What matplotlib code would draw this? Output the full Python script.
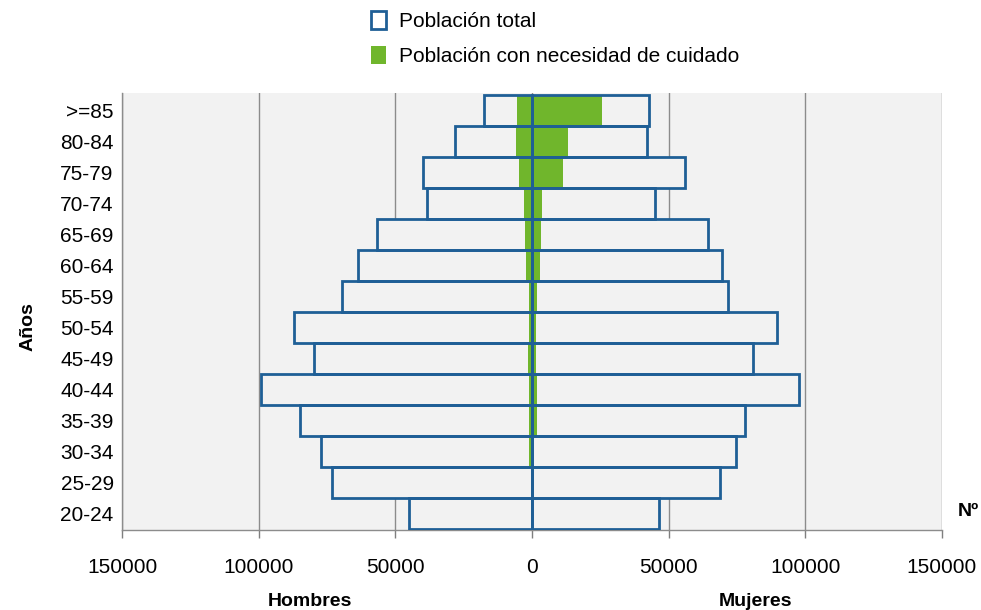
#!/usr/bin/env python3
"""Pirámide de población: total vs. población con necesidad de cuidado."""

import matplotlib
matplotlib.use("Agg")
import matplotlib.pyplot as plt
import matplotlib.ticker as mticker
from matplotlib.patches import Patch

plt.rcParams["font.family"] = ["Liberation Sans", "DejaVu Sans"]

# Age groups, bottom to top
age_groups = ["20-24", "25-29", "30-34", "35-39", "40-44", "45-49", "50-54",
              "55-59", "60-64", "65-69", "70-74", "75-79", "80-84", ">=85"]

men_total = [45000, 73200, 77200, 84900, 99100, 79700, 87000,
             69500, 63600, 56700, 38400, 39900, 28200, 17500]
women_total = [46500, 68800, 74600, 77900, 97700, 80800, 89600,
               71700, 69500, 64400, 45000, 56000, 42000, 42800]

men_care = [200, 500, 1100, 1000, 1200, 1500, 1200,
            1200, 2200, 2600, 3000, 4800, 6000, 5500]
women_care = [300, 700, 600, 1800, 1700, 1500, 1400,
              2000, 2800, 3400, 3800, 11500, 13000, 25600]

xticks = [-150000, -100000, -50000, 0, 50000, 100000, 150000]

BLUE = "#1f5f96"
GREEN = "#70b62c"
BG = "#f2f2f2"


def main():
    fig = plt.figure(figsize=(9.81, 6.10), dpi=100)
    ax = fig.add_axes([0.1244, 0.131, 0.8358, 0.7165])
    ax.set_facecolor(BG)

    y = list(range(len(age_groups)))
    neg_men_total = [-v for v in men_total]
    neg_men_care = [-v for v in men_care]

    # fills of total bars, then care bars, then total outlines on top
    for vals in (neg_men_total, women_total):
        ax.barh(y, vals, height=1.0, color=BG, edgecolor="none", zorder=2)
    for vals in (neg_men_care, women_care):
        ax.barh(y, vals, height=1.0, color=GREEN, edgecolor="none", zorder=3)
    for vals in (neg_men_total, women_total):
        ax.barh(y, vals, height=1.0, facecolor="none", edgecolor=BLUE,
                linewidth=2.0, zorder=4)

    ax.set_xlim(-150000, 150000)
    ax.set_ylim(-0.55, 13.55)
    ax.set_xticks(xticks)
    ax.xaxis.set_major_formatter(mticker.FuncFormatter(lambda v, p: f"{abs(int(v))}"))
    ax.set_yticks(y)
    ax.set_yticklabels(age_groups)
    ax.tick_params(axis="x", labelsize=15, colors="#7f7f7f", labelcolor="black",
                   length=6, width=1, pad=14, direction="out")
    ax.tick_params(axis="y", labelsize=15, length=0, pad=6)
    ax.grid(axis="x", color="#8c8c8c", linewidth=1.0, zorder=1)
    ax.set_axisbelow(True)

    for s in ("top", "right"):
        ax.spines[s].set_visible(False)
    for s in ("left", "bottom"):
        ax.spines[s].set_color("#8c8c8c")
        ax.spines[s].set_linewidth(1.0)

    fig.text(28 / 981, 1 - 327 / 610, "Años", rotation=90, fontsize=14,
             fontweight="bold", ha="center", va="center")
    fig.text(310 / 981, 1 - 602 / 610, "Hombres", fontsize=14,
             fontweight="bold", ha="center", va="center")
    fig.text(755 / 981, 1 - 602 / 610, "Mujeres", fontsize=14,
             fontweight="bold", ha="center", va="center")
    fig.text(968 / 981, 1 - 512 / 610, "Nº", fontsize=14,
             fontweight="bold", ha="center", va="center")

    handles = [Patch(facecolor="white", edgecolor=BLUE, linewidth=2.0),
               Patch(facecolor=GREEN, edgecolor="none")]
    fig.legend(handles, ["Población total", "Población con necesidad de cuidado"],
               loc="upper left", bbox_to_anchor=(352 / 981, 1 + 8 / 610),
               frameon=False, fontsize=15, handlelength=0.75, handleheight=1.0,
               handletextpad=0.6, labelspacing=0.7)

    fig.savefig("out.png", dpi=100)


if __name__ == "__main__":
    main()
